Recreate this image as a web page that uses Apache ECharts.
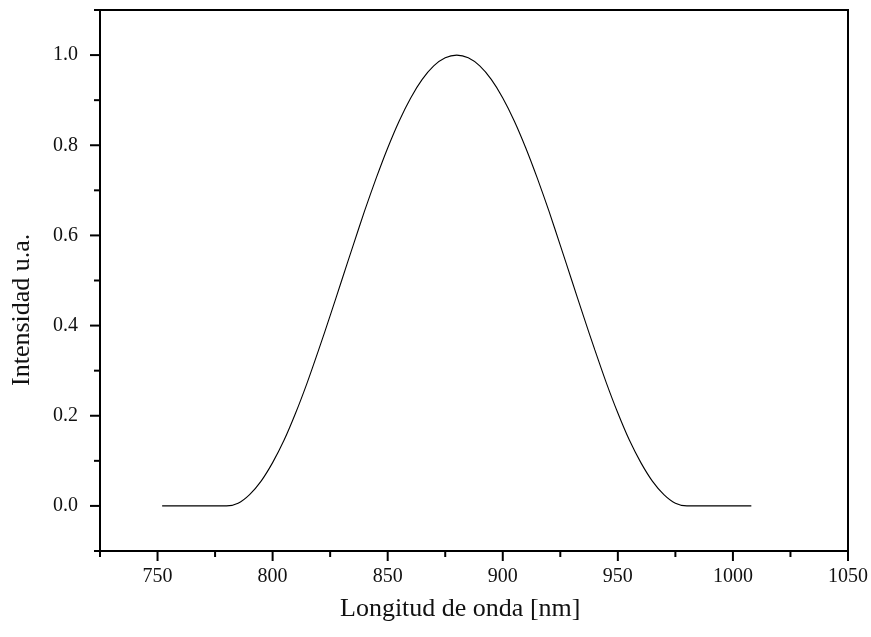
<!DOCTYPE html>
<html>
<head>
<meta charset="utf-8">
<script src="https://cdn.jsdelivr.net/npm/echarts@6/dist/echarts.min.js"></script>
<style>
  html, body { margin: 0; padding: 0; background: #fff; }
  #chart { width: 871px; height: 637px; }
</style>
</head>
<body>
<div id="chart"></div>
<script>
// longitud de onda (nm) e intensidad
var wavelength = [752, 760, 770, 780, 785, 790, 795, 800, 805, 810, 815, 820, 825, 830, 835, 840, 845, 850,
  855, 860, 865, 870, 875, 880, 885, 890, 895, 900, 905, 910, 915, 920, 925, 930, 935, 940, 945,
  950, 955, 960, 965, 970, 975, 980, 990, 1000, 1008];
var intensity = [0, 0, 0, 0, 0.006, 0.025, 0.055, 0.096, 0.146, 0.206, 0.273, 0.346, 0.422, 0.5, 0.578, 0.655,
  0.727, 0.794, 0.854, 0.905, 0.946, 0.976, 0.994, 1.0, 0.994, 0.976, 0.946, 0.905, 0.854, 0.794, 0.727,
  0.655, 0.578, 0.5, 0.422, 0.346, 0.273, 0.206, 0.146, 0.096, 0.055, 0.025, 0.006, 0, 0, 0, 0];

var xTicks = [750, 800, 850, 900, 950, 1000, 1050];
var xMinor = [725, 775, 825, 875, 925, 975, 1025];
var yTicks = [0, 0.2, 0.4, 0.6, 0.8, 1.0];
var yMinor = [-0.1, 0.1, 0.3, 0.5, 0.7, 0.9, 1.1];

var xName = 'Longitud de onda [nm]';
var yName = 'Intensidad u.a.';

var serif = '"Liberation Serif", "DejaVu Serif", serif';

var chart = echarts.init(document.getElementById('chart'));

var points = [];
for (var i = 0; i < wavelength.length; i++) {
  points.push([wavelength[i], intensity[i]]);
}

var option = {
  animation: false,
  backgroundColor: '#fff',
  grid: {
    left: 100, right: 18, top: 10, bottom: 86,
    show: true, borderColor: '#000', borderWidth: 2
  },
  xAxis: {
    type: 'value',
    min: 725, max: 1050,
    splitLine: { show: false },
    axisLine: { onZero: false, lineStyle: { color: '#000', width: 2 } },
    axisTick: { show: false },
    axisLabel: {
      margin: 16, color: '#111', fontFamily: serif, fontSize: 20,
      customValues: xTicks,
      formatter: function (v) { return String(v); }
    }
  },
  yAxis: {
    type: 'value',
    min: -0.1, max: 1.1,
    splitLine: { show: false },
    axisLine: { show: true, onZero: false, lineStyle: { color: '#000', width: 2 } },
    axisTick: { show: false },
    axisLabel: {
      margin: 22, color: '#111', fontFamily: serif, fontSize: 20,
      customValues: yTicks,
      formatter: function (v) { return v.toFixed(1); }
    }
  },
  series: [{
    type: 'line',
    data: points,
    showSymbol: false,
    smooth: 0.25,
    lineStyle: { color: '#000', width: 1.1 }
  }],
  graphic: [{
    type: 'text',
    left: 340, top: 596,
    style: { text: xName, fontFamily: serif, fontSize: 26, fill: '#111' }
  }, {
    type: 'text',
    x: 9, y: 386,
    rotation: Math.PI / 2,
    style: { text: yName, fontFamily: serif, fontSize: 26, fill: '#111' }
  }]
};

chart.setOption(option);

// marcas de los ejes: mayores 10 px, menores 6 px, hacia fuera
var x0 = chart.convertToPixel({ xAxisIndex: 0 }, 725);
var y0 = chart.convertToPixel({ yAxisIndex: 0 }, -0.1);
var ticks = [];
function yTick(v, len) {
  var py = chart.convertToPixel({ yAxisIndex: 0 }, v);
  ticks.push({
    type: 'line',
    shape: { x1: x0 - len, y1: py, x2: x0, y2: py },
    style: { stroke: '#000', lineWidth: 2 }
  });
}
function xTick(v, len) {
  var px = chart.convertToPixel({ xAxisIndex: 0 }, v);
  ticks.push({
    type: 'line',
    shape: { x1: px, y1: y0, x2: px, y2: y0 + len },
    style: { stroke: '#000', lineWidth: 2 }
  });
}
yTicks.forEach(function (v) { yTick(v, 10); });
yMinor.forEach(function (v) { yTick(v, 6); });
xTicks.forEach(function (v) { xTick(v, 10); });
xMinor.forEach(function (v) { xTick(v, 6); });
chart.setOption({ graphic: option.graphic.concat(ticks) });
</script>
</body>
</html>
